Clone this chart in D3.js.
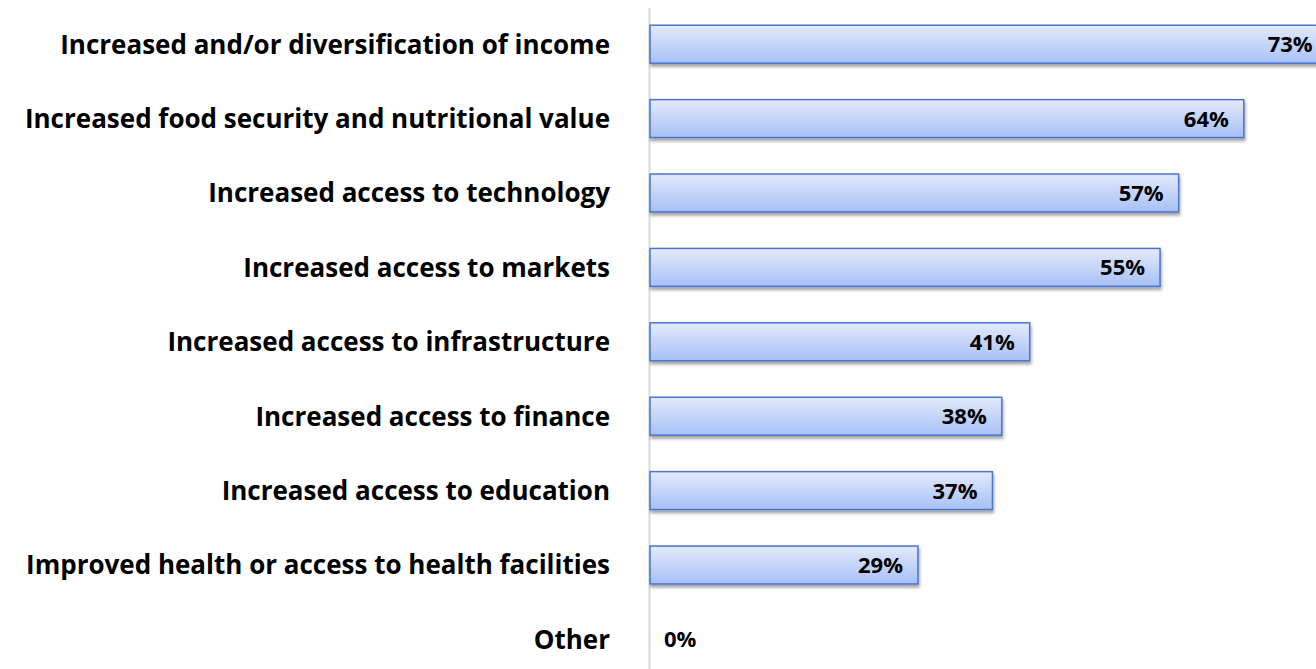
<!DOCTYPE html>
<html>
<head>
<meta charset="utf-8">
<script src="https://cdn.jsdelivr.net/npm/d3@7"></script>
<style>
	body { margin: 0; background: white; }
	svg { display: block; }
</style>
</head>
<body>
<div id="chart"></div>
<script>
let categories = [
	'Increased and/or diversification of income',
	'Increased food security and nutritional value',
	'Increased access to technology',
	'Increased access to markets',
	'Increased access to infrastructure',
	'Increased access to finance',
	'Increased access to education',
	'Improved health or access to health facilities',
	'Other'
];
let values = [73, 64, 57, 55, 41, 38, 37, 29, 0];

let width = 1316,
	height = 669,
	margin = {
		top: 7,
		left: 648
	};

let svg = d3.select('#chart')
	.append('svg')
	.attr('width', width)
	.attr('height', height)
	.style('font-family', '"Open Sans", Lato, sans-serif');

let defs = svg.append('defs');

let grad = defs.append('linearGradient')
	.attr('id', 'barFill')
	.attr('x1', 0).attr('y1', 0)
	.attr('x2', 0).attr('y2', 1);
grad.append('stop').attr('offset', '0%').attr('stop-color', '#e3eafc');
grad.append('stop').attr('offset', '100%').attr('stop-color', '#a7c0f6');

let shadow = defs.append('filter')
	.attr('id', 'shadow')
	.attr('x', '-5%').attr('y', '-20%')
	.attr('width', '110%').attr('height', '160%');
shadow.append('feDropShadow')
	.attr('dx', 1).attr('dy', 3)
	.attr('stdDeviation', 1.5)
	.attr('flood-color', '#000')
	.attr('flood-opacity', 0.35);

let x = d3.scaleLinear()
	.domain([0, 100])
	.range([margin.left, margin.left + 931]);

let y = d3.scaleBand()
	.domain(categories)
	.range([margin.top, margin.top + 669.6])
	.paddingInner(0.49)
	.paddingOuter(0.245);

// vertical axis line
svg.append('line')
	.attr('x1', margin.left + 1.5).attr('x2', margin.left + 1.5)
	.attr('y1', 8).attr('y2', height)
	.attr('stroke', '#d9d9d9')
	.attr('stroke-width', 2);

let data = categories.map((c, i) => ({ cat: c, val: values[i] }));

svg.selectAll('rect.bar')
	.data(data.filter(d => d.val > 0))
	.enter()
	.append('rect')
	.attr('class', 'bar')
	.attr('x', x(0) + 2)
	.attr('y', d => y(d.cat))
	.attr('width', d => x(d.val) - x(0) - 2)
	.attr('height', y.bandwidth())
	.attr('fill', 'url(#barFill)')
	.attr('stroke', '#4a74cc')
	.attr('stroke-width', 1.5)
	.attr('filter', 'url(#shadow)');

svg.selectAll('text.val')
	.data(data)
	.enter()
	.append('text')
	.attr('class', 'val')
	.attr('x', d => d.val > 0 ? x(d.val) - 15 : x(0) + 16)
	.attr('y', d => y(d.cat) + y.bandwidth() / 2)
	.attr('dy', '0.36em')
	.attr('text-anchor', d => d.val > 0 ? 'end' : 'start')
	.style('font-size', '22px')
	.style('font-weight', 'bold')
	.style('fill', 'black')
	.text(d => d.val + '%');

svg.selectAll('text.cat')
	.data(data)
	.enter()
	.append('text')
	.attr('class', 'cat')
	.attr('x', 610)
	.attr('y', d => y(d.cat) + y.bandwidth() / 2)
	.attr('dy', '0.36em')
	.attr('text-anchor', 'end')
	.style('font-size', '26px')
	.style('font-weight', 'bold')
	.style('fill', 'black')
	.text(d => d.cat);
</script>
</body>
</html>
